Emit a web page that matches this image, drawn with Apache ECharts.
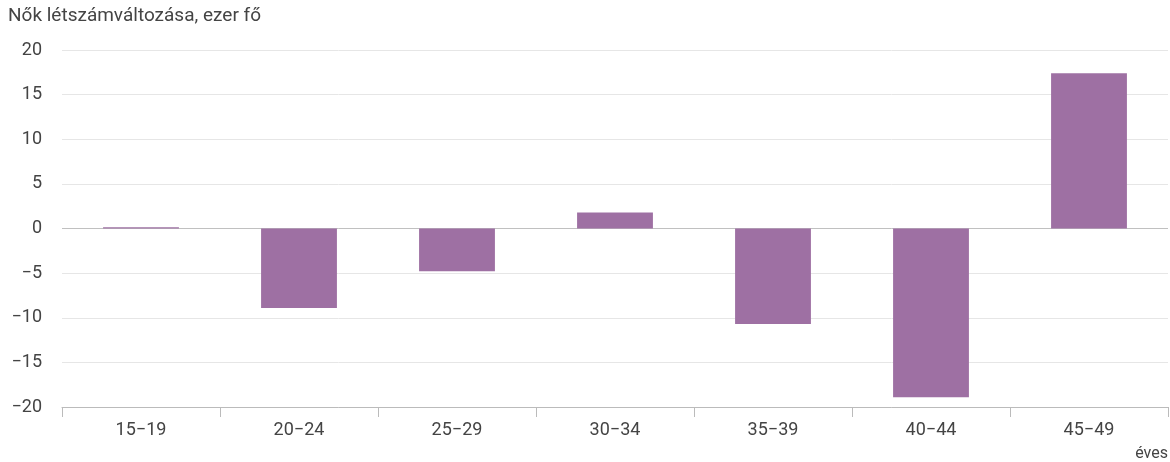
<!DOCTYPE html>
<html><head><meta charset="utf-8">
<script src="https://cdn.jsdelivr.net/npm/echarts@6/dist/echarts.min.js"></script>
<style>html,body{margin:0;padding:0;background:#fff}#c{width:1170px;height:462px}</style>
</head><body><div id="c"></div>
<script>
const categories = ['15−19','20−24','25−29','30−34','35−39','40−44','45−49'];
const values = [0.15, -8.9, -4.8, 1.8, -10.7, -18.9, 17.4];
const yTicks = {min: -20, max: 20, interval: 5};

const chart = echarts.init(document.getElementById('c'), null, {renderer: 'canvas'});
const font = 'Roboto, "Noto Sans", sans-serif';
chart.setOption({
  animation: false,
  grid: {left: 62, right: 2, top: 50, bottom: 55, containLabel: false},
  graphic: [
    {type: 'text', left: 8, top: 7, style: {text: 'Nők létszámváltozása, ezer fő', font: '19px ' + font, fill: '#444'}},
    {type: 'text', right: 2, top: 446, style: {text: 'éves', font: '16px ' + font, fill: '#444'}}
  ],
  xAxis: {
    type: 'category', data: categories,
    axisLine: {onZero: false, lineStyle: {color: '#bbb'}},
    axisTick: {show: true, length: 10, lineStyle: {color: '#bbb'}},
    axisLabel: {color: '#444', fontSize: 18, fontFamily: font, margin: 14}
  },
  yAxis: {
    type: 'value', min: yTicks.min, max: yTicks.max, interval: yTicks.interval,
    axisLabel: {color: '#444', fontSize: 18, fontFamily: font, margin: 20,
      formatter: v => (v < 0 ? '−' + (-v) : String(v))},
    splitLine: {lineStyle: {color: '#e6e6e6'}},
    axisLine: {show: false}, axisTick: {show: false}
  },
  series: [{
    type: 'bar', data: values, barWidth: '48%',
    itemStyle: {color: '#9e70a3'},
    markLine: {silent: true, symbol: 'none', label: {show: false},
      lineStyle: {color: '#c0c0c0', type: 'solid', width: 1}, data: [{yAxis: 0}], z: 0}
  }]
});
</script></body></html>
